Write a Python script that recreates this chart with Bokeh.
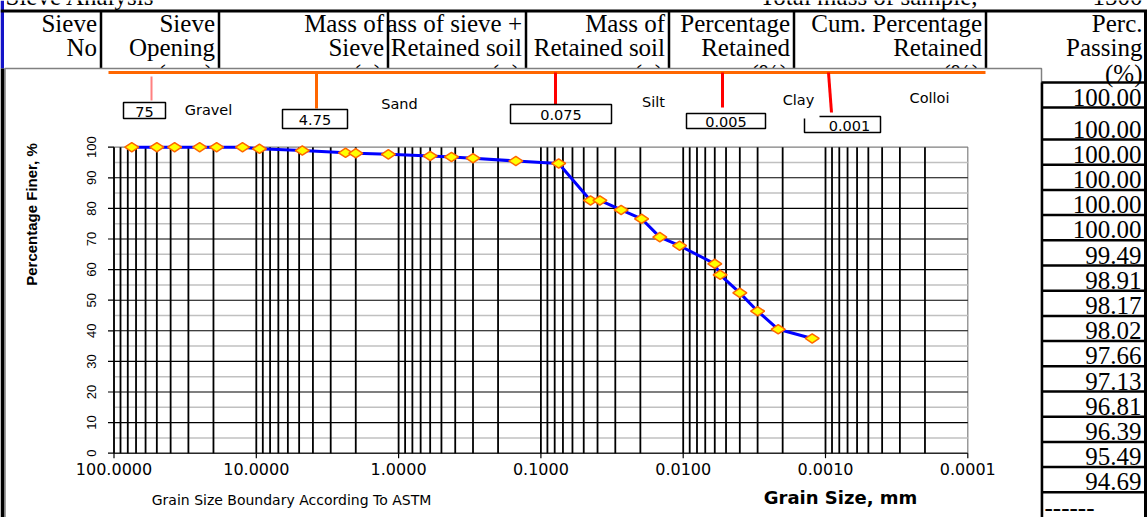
import math
from bokeh.plotting import figure
from bokeh.models import Range1d, LogScale
from bokeh.core.properties import value
from bokeh.embed import file_html
from bokeh.resources import INLINE

# ---------------- data ----------------
# Sieve analysis: sieve opening (mm) and percentage passing
sieve_opening_mm = [75, 50, 37.5, 25, 19, 12.5, 9.5, 4.75, 2.36, 2.0, 1.18, 0.6, 0.425, 0.3, 0.15, 0.075]
sieve_passing = [100.00, 100.00, 100.00, 100.00, 100.00, 100.00, 99.49, 98.91,
                 98.17, 98.02, 97.66, 97.13, 96.81, 96.39, 95.49, 94.69]

# Hydrometer analysis: equivalent particle diameter (mm) and percentage finer
hydrometer_diameter_mm = [0.0448, 0.0385, 0.0273, 0.0196, 0.0146, 0.0106,
                          0.0060, 0.0055, 0.0040, 0.0030, 0.00215, 0.00124]
hydrometer_finer = [82.6, 82.6, 79.5, 76.6, 70.6, 67.8, 61.9, 58.3, 52.4, 46.4, 40.5, 37.5]

x_tick_values = [100, 10, 1, 0.1, 0.01, 0.001, 0.0001]
x_tick_labels = ["100.0000", "10.0000", "1.0000", "0.1000", "0.0100", "0.0010", "0.0001"]
y_tick_values = [0, 10, 20, 30, 40, 50, 60, 70, 80, 90, 100]

boundary_labels = ["75", "4.75", "0.075", "0.005", "0.001"]
soil_classes = ["Gravel", "Sand", "Silt", "Clay", "Colloi"]

header_line1 = ["Sieve", "Sieve", "Mass of", "Mass of sieve +", "Mass of", "Percentage", "Cum. Percentage", "Perc."]
header_line2 = ["No", "Opening", "Sieve", "Retained soil", "Retained soil", "Retained", "Retained", "Passing"]
header_units = ["", "(mm)", "(g)", "(g)", "(g)", "(%)", "(%)", "(%)"]

sheet_title = "Sieve Analysis"
total_mass_label = "Total mass of sample,"
total_mass_value = "1500"

# ---------------- page geometry ----------------
W, H = 1147, 517
PL, PR, PT, PB = 113.5, 967.3, 146.7, 452.7      # plot box in page pixels
D_MAX, D_MIN = 100.0, 0.0001
F_MIN, F_MAX = 0.0, 100.0

dec_px = (PR - PL) / math.log10(D_MAX / D_MIN)
x_left = 10 ** (math.log10(D_MAX) + PL / dec_px)
x_right = 10 ** (math.log10(D_MAX) - (W - PL) / dec_px)
px_per_pct = (PB - PT) / (F_MAX - F_MIN)
y_bottom = F_MIN - (H - PB) / px_per_pct
y_top = F_MAX + PT / px_per_pct

p = figure(width=W, height=H, x_range=Range1d(0, W), y_range=Range1d(H, 0),
           x_axis_type=None, y_axis_type=None, toolbar_location=None,
           output_backend="svg", min_border=0, outline_line_color=None,
           background_fill_color="white", border_fill_color="white")
p.extra_x_ranges = {"mm": Range1d(x_left, x_right)}
p.extra_x_scales = {"mm": LogScale()}
p.extra_y_ranges = {"pct": Range1d(y_bottom, y_top)}

SERIF = "Liberation Serif"
SANS = "DejaVu Sans"
ARIAL = "Liberation Sans"


def txt(xs, ys, labels, font=SERIF, size=25, align="right", baseline="middle",
        style="normal", color="black", angle=0, **kw):
    p.text(x=xs, y=ys, text=labels, text_font=value(font), text_font_size=f"{size}px",
           text_align=align, text_baseline=baseline, text_font_style=style,
           text_color=color, angle=angle, **kw)


# ---------------- worksheet frame ----------------
p.quad(left=[0], right=[3.5], top=[0], bottom=[68], fill_color="#1414c8", line_color=None)
p.quad(left=[0], right=[4], top=[68], bottom=[H], fill_color="black", line_color=None)

txt([5], [-4], [sheet_title], align="left")
txt([977], [-4], [total_mass_label])
txt([1142], [-4], [total_mass_value])

col_edges = [100.5, 218.5, 387.5, 525.5, 668.5, 793.5, 985.5, 1145.0]
col_text_x = [e - 4 for e in col_edges[:-1]] + [1142]

# long header of the fourth column, clipped by its left neighbour
txt([col_text_x[3]], [23], [header_line1[3]])
p.quad(left=[col_edges[1] + 1.5], right=[col_edges[2] - 1], top=[12], bottom=[66],
       fill_color="white", line_color=None)
others = [i for i in range(8) if i != 3]
txt([col_text_x[i] for i in others], [23] * len(others), [header_line1[i] for i in others])
txt(col_text_x, [47] * 8, header_line2)
unit_idx = [i for i in range(8) if header_units[i]]
txt([col_text_x[i] - 2 if i < 7 else col_text_x[i] for i in unit_idx], [73] * len(unit_idx),
    [header_units[i] for i in unit_idx])

p.segment(x0=[0], y0=[10.5], x1=[W], y1=[10.5], line_color="black", line_width=3)
p.segment(x0=col_edges[:-1], y0=[10] * 7, x1=col_edges[:-1], y1=[68] * 7,
          line_color="black", line_width=2.5)
p.segment(x0=[col_edges[-1]], y0=[10], x1=[col_edges[-1]], y1=[H], line_color="black", line_width=3)

# ---------------- chart area ----------------
p.quad(left=[4.5], right=[1041], top=[68], bottom=[H + 5], fill_color="white",
       line_color="#808080", line_width=1.5)

XR = dict(x_range_name="mm")
YR = dict(y_range_name="pct")
XYR = dict(x_range_name="mm", y_range_name="pct")

# plot box
p.quad(left=[D_MAX], right=[D_MIN], top=[F_MAX], bottom=[F_MIN], fill_color=None,
       line_color="#808080", line_width=1.2, **XYR)

# horizontal grid
minor_y = [v + 5 for v in y_tick_values[:-1]]
p.segment(x0=[D_MAX] * len(minor_y), y0=minor_y, x1=[D_MIN] * len(minor_y), y1=minor_y,
          line_color="#c0c0c0", line_width=1.5, **XYR)
major_y = y_tick_values[:-1]
p.segment(x0=[D_MAX] * len(major_y), y0=major_y, x1=[D_MIN] * len(major_y), y1=major_y,
          line_color="black", line_width=1.1, **XYR)

# vertical grid, one line per 1..9 x 10^n
vert = [k * 10.0 ** n for n in range(-4, 2) for k in range(1, 10)] + [D_MAX]
vert = [v for v in vert if D_MIN * 1.0001 < v <= D_MAX]
p.segment(x0=vert, y0=[F_MIN] * len(vert), x1=vert, y1=[F_MAX] * len(vert),
          line_color="black", line_width=1.8, **XYR)

# ticks
p.segment(x0=[PL - 6] * len(y_tick_values), y0=y_tick_values, x1=[PL] * len(y_tick_values),
          y1=y_tick_values, line_color="black", line_width=1.2, **YR)
p.segment(x0=x_tick_values, y0=[PB] * 7, x1=x_tick_values, y1=[PB + 5] * 7,
          line_color="black", line_width=1.2, **XR)

txt([91] * len(y_tick_values), y_tick_values, [str(v) for v in y_tick_values], font=ARIAL,
    size=13, align="center", angle=math.pi / 2, **YR)
txt(x_tick_values, [468] * 7, x_tick_labels, font=SANS, size=16, align="center", **XR)

txt([31], [214], ["Percentage Finer, %"], font=ARIAL, size=15, style="bold",
    align="center", angle=math.pi / 2)
txt([840], [497], ["Grain Size, mm"], font=SANS, size=18, style="bold", align="center")
txt([291], [499], ["Grain Size Boundary According To ASTM"], font=SANS, size=14,
    align="center")

# soil-class boundary markers
p.segment(x0=[108], y0=[72], x1=[985], y1=[72], line_color="#ff6600", line_width=3)
p.segment(x0=[151], y0=[76], x1=[151], y1=[100], line_color="#ff8080", line_width=2)
p.segment(x0=[316], y0=[72], x1=[316], y1=[108], line_color="#ff6600", line_width=3)
p.segment(x0=[555, 722], y0=[72, 72], x1=[555, 722], y1=[104, 107], line_color="red", line_width=3)
p.segment(x0=[828], y0=[72], x1=[831], y1=[112], line_color="red", line_width=3)

box_l = [123, 282, 510, 686]
box_r = [165, 347, 611, 765]
box_t = [102, 109, 104, 113]
box_b = [118, 128, 123, 128]
p.quad(left=box_l, right=box_r, top=box_t, bottom=box_b, fill_color="white",
       line_color="black", line_width=1.5)
p.line(x=[819, 880, 880, 804, 804], y=[116, 116, 132, 132, 118], line_color="black", line_width=1.5)
txt([(l + r) / 2 for l, r in zip(box_l, box_r)] + [849],
    [(t + b) / 2 + 1 for t, b in zip(box_t, box_b)] + [125],
    boundary_labels, font=SANS, size=14.5, align="center")
txt([208, 399, 653, 798, 929], [109, 103, 101, 99, 97], soil_classes, font=SANS, size=14.5,
    align="center")

# gradation curve
all_d = sieve_opening_mm + hydrometer_diameter_mm
all_f = sieve_passing + hydrometer_finer
p.line(x=all_d, y=all_f, line_color="#0000ff", line_width=3, **XYR)
p.scatter(x=all_d, y=all_f, marker="diamond", size=14, angle=math.pi / 2,
          fill_color="#ffff00", line_color="#ff6600", line_width=1.5, **XYR)

# ---------------- percentage passing column ----------------
n_rows = len(sieve_passing)
row_bounds = [82, 107] + [139 + 25.2 * k for k in range(n_rows - 1)]
p.segment(x0=[1041] * len(row_bounds), y0=row_bounds, x1=[W] * len(row_bounds), y1=row_bounds,
          line_color="black", line_width=2.5)
p.segment(x0=[1041.5], y0=[82], x1=[1041.5], y1=[H], line_color="black", line_width=2.5)
passing_text = [f"{v:.2f}" for v in sieve_passing]
txt([1141] * n_rows, [b - 10.5 for b in row_bounds[1:]], passing_text)
txt([1044], [row_bounds[-1] + 15], ["------"], align="left")

open("out.html", "w").write(file_html(p, INLINE))
